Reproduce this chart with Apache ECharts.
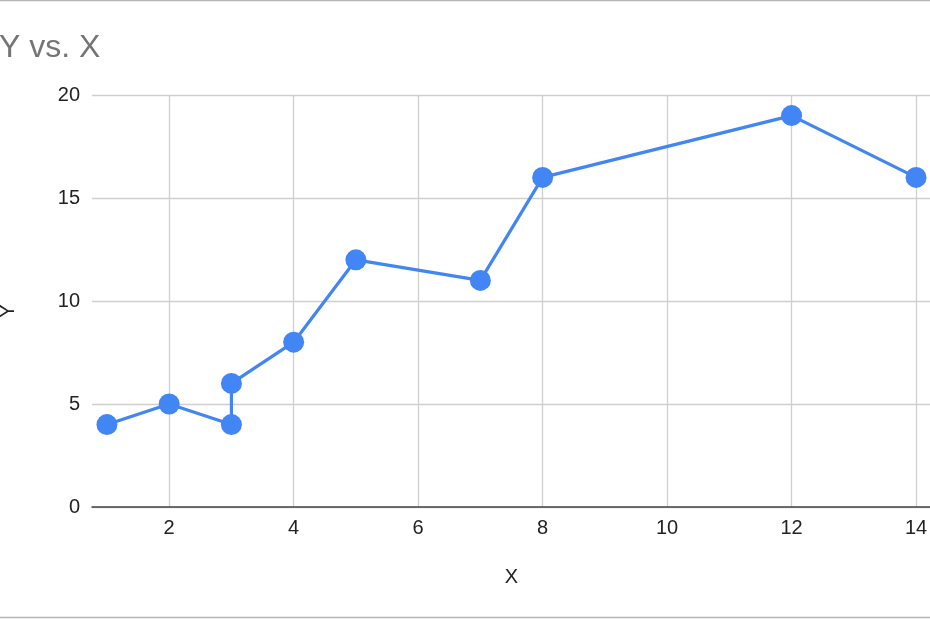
<!DOCTYPE html>
<html>
<head>
<meta charset="utf-8">
<title>Y vs. X</title>
<script src="https://cdn.jsdelivr.net/npm/echarts@6/dist/echarts.min.js"></script>
<style>
    html, body { margin: 0; padding: 0; background: #fff; }
    #chart { width: 930px; height: 620px; }
</style>
</head>
<body>
<div id="chart"></div>
<script>
// data
var xValues = [1, 2, 3, 3, 4, 5, 7, 8, 12, 14];
var yValues = [4, 5, 4, 6, 8, 12, 11, 16, 19, 16];
var xTicks = [2, 4, 6, 8, 10, 12, 14];
var yTicks = [0, 5, 10, 15, 20];

var points = [];
for (var i = 0; i < xValues.length; i++) {
    points.push([xValues[i], yValues[i]]);
}

var FONT = 'Arial, "Liberation Sans", sans-serif';
var myChart = echarts.init(document.getElementById('chart'));

var option = {
    backgroundColor: '#fff',
    animation: false,
    title: {
        text: 'Y vs. X',
        left: -6,
        top: 27,
        textStyle: { color: '#757575', fontSize: 32, fontWeight: 'normal', fontFamily: FONT }
    },
    grid: { left: 92, right: -1, top: 95, bottom: 113, outerBoundsMode: 'none', containLabel: false },
    xAxis: {
        type: 'value',
        min: 0.76,
        max: 14.24,
        name: 'X',
        nameLocation: 'middle',
        nameGap: 60,
        nameTextStyle: { color: '#222', fontSize: 20, fontFamily: FONT },
        axisLine: { show: true, onZero: false, lineStyle: { color: '#444', width: 1.5 } },
        axisTick: { show: false, customValues: xTicks },
        axisLabel: { customValues: xTicks, color: '#222', fontSize: 20, fontFamily: FONT, margin: 11 },
        splitLine: { show: true, lineStyle: { color: '#cfcfcf', width: 1.3 } }
    },
    yAxis: {
        type: 'value',
        min: 0,
        max: 20,
        interval: 5,
        name: 'Y',
        nameLocation: 'middle',
        nameGap: 74,
        nameRotate: 90,
        // 往下挪一点，跟原图对齐
        nameTextStyle: { color: '#222', fontSize: 20, fontFamily: FONT, padding: [0, 20, 0, 0] },
        axisLine: { show: false },
        axisTick: { show: false },
        axisLabel: { color: '#222', fontSize: 20, fontFamily: FONT, margin: 12 },
        splitLine: { show: true, lineStyle: { color: '#cfcfcf', width: 1.3 } }
    },
    graphic: [
        { type: 'line', shape: { x1: 0, y1: 0.5, x2: 930, y2: 0.5 }, style: { stroke: '#b5b5b5', lineWidth: 1.5 } },
        { type: 'line', shape: { x1: 0, y1: 617.5, x2: 930, y2: 617.5 }, style: { stroke: '#b5b5b5', lineWidth: 1.5 } }
    ],
    series: [{
        type: 'line',
        data: points,
        symbol: 'circle',
        symbolSize: 21,
        lineStyle: { color: '#4285f4', width: 3.2 },
        itemStyle: { color: '#4285f4' }
    }]
};
myChart.setOption(option);
</script>
</body>
</html>
